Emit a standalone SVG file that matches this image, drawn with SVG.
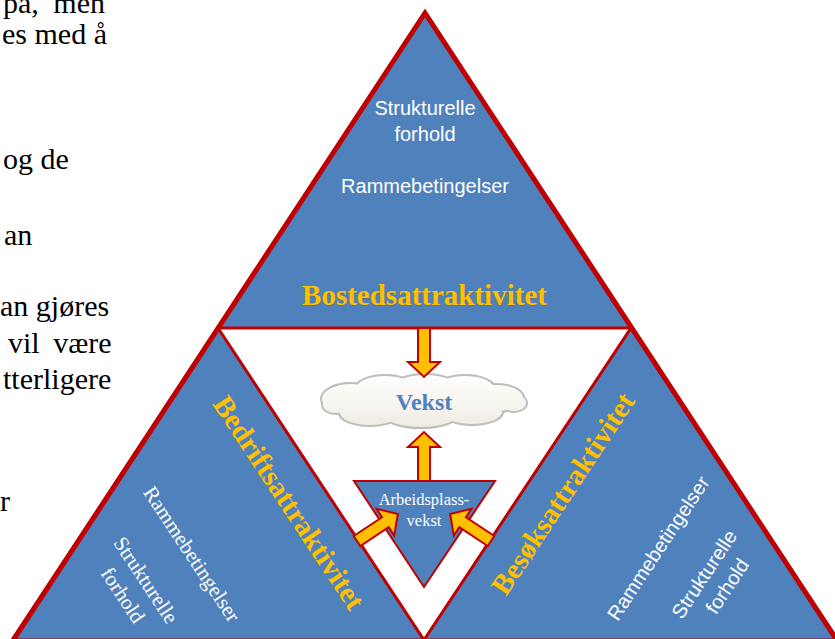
<svg xmlns="http://www.w3.org/2000/svg" xmlns:xlink="http://www.w3.org/1999/xlink" width="835" height="639" viewBox="0 0 835 639">
<style>
.tri{fill:#4F81BD;stroke:#C00000;stroke-width:3;stroke-linejoin:miter}
.outer{fill:none;stroke:#C00000;stroke-width:5;stroke-linejoin:miter}
.para{font-family:"Liberation Serif","Times New Roman",serif;font-size:30px;fill:#000}
.title{font-family:"Liberation Serif","Times New Roman",serif;font-size:29px;font-weight:bold;fill:#FFC000;text-anchor:middle}
.sans{font-family:"Liberation Sans",Arial,sans-serif;font-size:20px;fill:#FFFFFF;text-anchor:middle}
.serifw{font-family:"Liberation Serif","Times New Roman",serif;font-size:21px;fill:#FFFFFF;text-anchor:middle}
.arrow{fill:#FFC000;stroke:#C00000;stroke-width:2;stroke-linejoin:miter}
</style>
<defs>
<polygon id="blockArrow" points="0,-6 34,-6 34,-16 49,0 34,16 34,6 0,6"/>
<linearGradient id="cloudGrad" gradientUnits="userSpaceOnUse" x1="0" y1="374" x2="0" y2="430">
<stop offset="0" stop-color="#FFFFFF"/>
<stop offset="1" stop-color="#EEEBDF"/>
</linearGradient>
<g id="cloudShape">
<ellipse cx="424" cy="402" rx="86" ry="17"/>
<ellipse cx="350" cy="399" rx="28" ry="15"/>
<ellipse cx="385" cy="390" rx="30" ry="14"/>
<ellipse cx="425" cy="388" rx="32" ry="13"/>
<ellipse cx="465" cy="390" rx="30" ry="14"/>
<ellipse cx="497" cy="398" rx="26" ry="13"/>
<ellipse cx="336" cy="405" rx="13" ry="8"/>
<ellipse cx="514" cy="403" rx="12" ry="8"/>
<ellipse cx="370" cy="413" rx="30" ry="12"/>
<ellipse cx="421" cy="415" rx="36" ry="12"/>
<ellipse cx="472" cy="412" rx="30" ry="12"/>
</g>
</defs>

<g id="paragraph">
<text class="para" x="3" y="13" word-spacing="7">pa, men</text>
<text class="para" x="2" y="44">es med å</text>
<text class="para" x="3" y="169">og de</text>
<text class="para" x="4" y="245">an</text>
<text class="para" x="0" y="316">an gjøres</text>
<text class="para" x="8" y="353" word-spacing="6">vil være</text>
<text class="para" x="3" y="389">tterligere</text>
<text class="para" x="0" y="511">r</text>
</g>

<g id="bostedsattraktivitet">
<polygon class="tri" points="425,13 631,328 218,328"/>
<text class="sans" x="425" y="115">Strukturelle</text>
<text class="sans" x="425" y="141">forhold</text>
<text class="sans" x="425" y="193">Rammebetingelser</text>
<text class="title" x="425.5" y="306" opacity="0.35" style="fill:#7a5c00">Bostedsattraktivitet</text>
<text class="title" x="424.5" y="305">Bostedsattraktivitet</text>
</g>

<g id="bedriftsattraktivitet">
<polygon class="tri" points="218,328 424,640 12,640"/>
<text class="title" transform="translate(281,508) rotate(56.5)">Bedriftsattraktivitet</text>
<text class="serifw" transform="translate(186,558) rotate(56.5)">Rammebetingelser</text>
<text class="serifw" transform="translate(140,584) rotate(56.5)">Strukturelle</text>
<text class="serifw" transform="translate(117,599) rotate(56.5)">forhold</text>
</g>

<g id="besoksattraktivitet">
<polygon class="tri" points="631,328 838,640 424,640"/>
<text class="title" transform="translate(571,499) rotate(-56.5)">Besøksattraktivitet</text>
<text class="sans" transform="translate(664,552) rotate(-56.5)">Rammebetingelser</text>
<text class="sans" transform="translate(710,578) rotate(-56.5)">Strukturelle</text>
<text class="sans" transform="translate(733,590) rotate(-56.5)">forhold</text>
</g>

<polyline class="outer" points="12,642 425,13 838,642"/>

<g id="arbeidsplassvekst">
<polygon points="354,481 495,481 424,587" fill="#4F81BD" stroke="#C00000" stroke-width="2"/>
<text x="424" y="505" font-family="'Liberation Serif','Times New Roman',serif" font-size="16.5" fill="#FFFFFF" text-anchor="middle">Arbeidsplass-</text>
<text x="424" y="526" font-family="'Liberation Serif','Times New Roman',serif" font-size="16.5" fill="#FFFFFF" text-anchor="middle">vekst</text>
</g>

<g id="vekst">
<use xlink:href="#cloudShape" fill="none" stroke="#BDBDBD" stroke-width="4"/>
<use xlink:href="#cloudShape" fill="url(#cloudGrad)" stroke="none"/>
<text x="424" y="410" font-family="'Liberation Serif','Times New Roman',serif" font-size="24" font-weight="bold" fill="#4F81BD" text-anchor="middle">Vekst</text>
</g>

<g id="connectors">
<use xlink:href="#blockArrow" class="arrow" transform="translate(424,328) rotate(90)"/>
<use xlink:href="#blockArrow" class="arrow" transform="translate(424,481) rotate(-90)"/>
<use xlink:href="#blockArrow" class="arrow" transform="translate(357,541) rotate(-33.5)"/>
<use xlink:href="#blockArrow" class="arrow" transform="translate(491,541) rotate(213.5)"/>
</g>
</svg>
